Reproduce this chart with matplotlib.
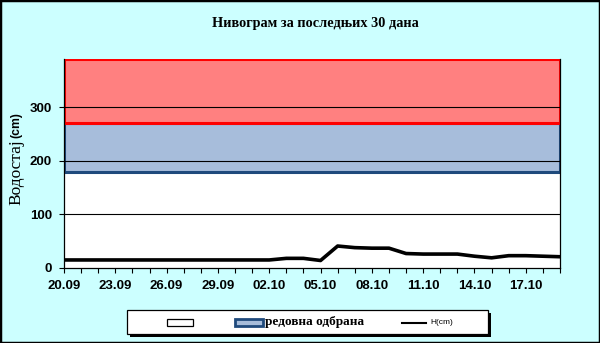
import matplotlib

matplotlib.use("Agg")
import matplotlib.pyplot as plt
from matplotlib.lines import Line2D
from matplotlib.patches import Rectangle

# daily water level, 20.09 .. 19.10
dates = [
    "20.09", "21.09", "22.09", "23.09", "24.09", "25.09", "26.09", "27.09",
    "28.09", "29.09", "30.09", "01.10", "02.10", "03.10", "04.10", "05.10",
    "06.10", "07.10", "08.10", "09.10", "10.10", "11.10", "12.10", "13.10",
    "14.10", "15.10", "16.10", "17.10", "18.10", "19.10",
]
level_cm = [
    15, 15, 15, 15, 15, 15, 15, 15, 15, 15, 15, 15, 15, 18, 18, 14,
    41, 38, 37, 37, 27, 26, 26, 26, 22, 19, 23, 23, 22, 21,
]
regular_defence = (180, 270)
emergency_defence = (270, 390)
y_ticks = [0, 100, 200, 300]

BG = "#CCFFFF"
SERIF = "Liberation Serif"
SANS = "Liberation Sans"

W, H = 600, 343
fig = plt.figure(figsize=(W / 100, H / 100), dpi=100, facecolor=BG)
ax = fig.add_axes([64 / W, 75 / H, 496 / W, 209 / H])
ax.set_facecolor("white")

days = list(range(len(dates)))
ax.axhspan(*regular_defence, facecolor="#A7BDDB", edgecolor="#1F4A7C", linewidth=2.2, zorder=1)
ax.axhspan(*emergency_defence, facecolor="#FF8080", edgecolor="#FF0000", linewidth=2.2, zorder=1.1)
for y in y_ticks[1:]:
    ax.axhline(y, color="black", linewidth=0.8, zorder=2)

ax.plot(days, level_cm, color="black", linewidth=2.6, solid_joinstyle="round",
        solid_capstyle="round", zorder=3)

ax.set_xlim(0, len(dates) - 1)
ax.set_ylim(0, emergency_defence[1])
ax.set_xticks(days[::3])
ax.set_xticklabels(dates[::3])
ax.set_xticks(days, minor=True)
ax.set_yticks(y_ticks)
ax.tick_params(axis="both", which="both", direction="out", length=3.6, width=0.8, pad=5)
for lbl in ax.get_xticklabels() + ax.get_yticklabels():
    lbl.set_fontfamily(SANS)
    lbl.set_fontweight("bold")
    lbl.set_fontsize(9.5)
ax.spines["top"].set_visible(False)
for side in ("left", "bottom", "right"):
    ax.spines[side].set_linewidth(0.9)

fig.text(315 / W, 1 - 23 / H, "Нивограм за последњих 30 дана", ha="center", va="center",
         fontfamily=SERIF, fontweight="bold", fontsize=10.3)
fig.text(16 / W, 1 - 172 / H, "Водостај", rotation=90, ha="center", va="center",
         fontfamily=SERIF, fontsize=12.5)
fig.text(16 / W, 1 - 125 / H, "(cm)", rotation=90, ha="center", va="center",
         fontfamily=SANS, fontweight="bold", fontsize=8.8)

# legend box with black shadow
lx0, lx1, ly0, ly1 = 127, 488, 310, 334
fig.patches.append(Rectangle(((lx0 + 3) / W, 1 - (ly1 + 3) / H), (lx1 - lx0) / W, (ly1 - ly0) / H,
                             transform=fig.transFigure, facecolor="black", edgecolor="none"))
fig.patches.append(Rectangle((lx0 / W, 1 - ly1 / H), (lx1 - lx0) / W, (ly1 - ly0) / H,
                             transform=fig.transFigure, facecolor="white", edgecolor="black",
                             linewidth=0.9))
ly = 1 - 322.5 / H
fig.patches.append(Rectangle((167 / W, 1 - 326 / H), 26 / W, 7 / H, transform=fig.transFigure,
                             facecolor="white", edgecolor="black", linewidth=0.9))
fig.patches.append(Rectangle((235 / W, 1 - 326 / H), 28 / W, 7 / H, transform=fig.transFigure,
                             facecolor="#A7BDDB", edgecolor="#1F4A7C", linewidth=2))
fig.text(265 / W, ly, "редовна одбрана", ha="left", va="center", fontfamily=SERIF,
         fontweight="bold", fontsize=9.5)
fig.lines.append(Line2D([402 / W, 426 / W], [ly, ly], transform=fig.transFigure,
                        color="black", linewidth=1.5))
fig.text(430 / W, ly, "H(cm)", ha="left", va="center", fontfamily=SANS, fontsize=6)

# outer frame
fig.patches.append(Rectangle((0, 0), 1, 1, transform=fig.transFigure, facecolor="none",
                             edgecolor="black", linewidth=2.5))

fig.savefig("out.png", dpi=100, facecolor=BG)
